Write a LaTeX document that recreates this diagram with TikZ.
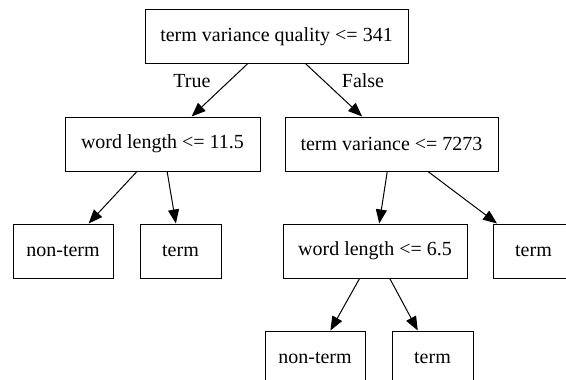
\documentclass[tikz,border=0pt]{standalone}
\usepackage{fontspec}
\setmainfont{Liberation Serif}
\newfontfamily\treefont{Liberation Serif}
\usetikzlibrary{arrows.meta}

\begin{document}
\begin{tikzpicture}[
    x=1pt, y=-1pt,
    split/.style={rectangle, draw=black, line width=1pt, fill=white,
        minimum height=54pt, inner sep=2pt, font=\treefont\fontsize{20}{24}\selectfont},
    leaf/.style={split},
    lbl/.style={inner sep=0pt, font=\treefont\fontsize{20}{24}\selectfont},
    edge/.style={line width=1pt, -{Triangle[length=14pt, width=11pt]}}
]
    \useasboundingbox (0,0) rectangle (566,380);
    \node[split, minimum width=263pt] (root) at (276.5,36.5) {term variance quality <= 341};
    \node[split, minimum width=195pt] (wla) at (162.5,144) {word length <= 11.5};
    \node[split, minimum width=213pt] (tv) at (391.5,144) {term variance <= 7273};
    \node[leaf, minimum width=100pt] (nta) at (63,251) {non-term};
    \node[leaf, minimum width=81pt] (ta) at (180.5,251) {term};
    \node[split, minimum width=184pt] (wlb) at (375,251) {word length <= 6.5};
    \node[leaf, minimum width=81pt] (tb) at (533.5,251) {term};
    \node[leaf, minimum width=100pt] (ntb) at (315,358) {non-term};
    \node[leaf, minimum width=81pt] (tc) at (432.5,358) {term};
    \node[lbl] (true) at (192,81) {True};
    \node[lbl] (false) at (363,81) {False};
    \draw[edge] (root) -- (wla);
    \draw[edge] (root) -- (tv);
    \draw[edge] (wla) -- (nta);
    \draw[edge] (wla) -- (ta);
    \draw[edge] (tv) -- (wlb);
    \draw[edge] (tv) -- (tb);
    \draw[edge] (wlb) -- (ntb);
    \draw[edge] (wlb) -- (tc);
\end{tikzpicture}
\end{document}
